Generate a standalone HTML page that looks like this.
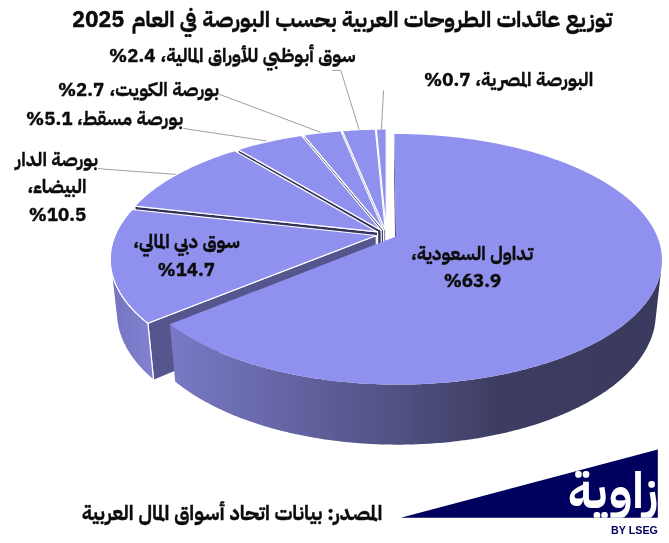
<!DOCTYPE html>
<html lang="ar"><head><meta charset="utf-8"><title>توزيع عائدات الطروحات العربية</title>
<style>html,body{margin:0;padding:0;background:#fff;overflow:hidden}svg{display:block}</style></head>
<body><svg width="669" height="543" viewBox="0 0 669 543">
<rect width="669" height="543" fill="#fff"/>
<defs><linearGradient id="gs" gradientUnits="userSpaceOnUse" x1="170" y1="0" x2="662" y2="0"><stop offset="0" stop-color="#7979c6"/><stop offset="0.264" stop-color="#6262a0"/><stop offset="0.467" stop-color="#505082"/><stop offset="0.67" stop-color="#3d3d62"/><stop offset="1" stop-color="#3a3a5e"/></linearGradient><linearGradient id="gd" gradientUnits="userSpaceOnUse" x1="111" y1="0" x2="155" y2="0"><stop offset="0" stop-color="#7474be"/><stop offset="1" stop-color="#8383d6"/></linearGradient></defs>
<path d="M386.2,229.7 376.3,129.1 376.5,175.3 386.2,281.8Z" fill="#32325c" stroke="#fff" stroke-width="1.2" stroke-linejoin="round"/>
<path d="M386.2,229.7 386.2,129.0 386.2,175.2 386.2,281.8Z" fill="#32325c" stroke="#fff" stroke-width="1.2" stroke-linejoin="round"/>
<path d="M385.2,229.7 342.3,130.7 343.1,177.0 385.2,281.9Z" fill="#32325c" stroke="#fff" stroke-width="1.2" stroke-linejoin="round"/>
<path d="M383.5,229.8 303.4,135.0 304.9,181.6 383.6,282.0Z" fill="#32325c" stroke="#fff" stroke-width="1.2" stroke-linejoin="round"/>
<path d="M381.2,230.3 238.0,149.4 240.8,196.9 381.3,282.5Z" fill="#32325c" stroke="#fff" stroke-width="1.2" stroke-linejoin="round"/>
<path d="M377.6,231.9 134.7,206.1 139.9,257.0 377.8,284.2Z" fill="#32325c" stroke="#fff" stroke-width="1.2" stroke-linejoin="round"/>
<path d="M376.3,235.5 147.9,323.2 153.6,380.4 376.5,288.1Z" fill="#56568f" stroke="#fff" stroke-width="1.2" stroke-linejoin="round"/>
<path d="M147.9,323.2 146.5,322.2 145.2,321.1 144.0,320.1 142.7,319.0 141.5,317.9 140.3,316.9 139.1,315.8 138.0,314.7 136.8,313.6 135.7,312.6 134.7,311.5 133.6,310.4 132.6,309.3 131.6,308.2 130.6,307.1 129.6,306.0 128.7,304.9 127.8,303.8 126.9,302.7 126.0,301.6 125.2,300.4 124.3,299.3 123.6,298.2 122.8,297.1 122.0,296.0 121.3,294.8 120.6,293.7 119.9,292.6 119.3,291.5 118.7,290.3 118.0,289.2 117.5,288.1 116.9,286.9 116.4,285.8 115.9,284.7 115.4,283.5 114.9,282.4 114.5,281.3 114.0,280.1 113.6,279.0 113.3,277.9 112.9,276.7 112.6,275.6 112.3,274.5 112.0,273.3 111.7,272.2 111.5,271.1 111.3,269.9 111.1,268.8 110.9,267.7 110.7,266.6 110.6,265.4 116.8,319.6 116.9,320.8 117.1,322.0 117.3,323.1 117.5,324.3 117.7,325.5 118.0,326.7 118.2,327.9 118.5,329.1 118.8,330.3 119.1,331.5 119.5,332.7 119.9,333.9 120.3,335.1 120.7,336.3 121.1,337.5 121.6,338.7 122.1,339.8 122.6,341.0 123.1,342.2 123.7,343.4 124.3,344.6 124.9,345.8 125.5,347.0 126.1,348.2 126.8,349.4 127.5,350.5 128.2,351.7 129.0,352.9 129.7,354.1 130.5,355.3 131.3,356.4 132.2,357.6 133.0,358.8 133.9,359.9 134.8,361.1 135.7,362.3 136.7,363.4 137.6,364.6 138.6,365.7 139.6,366.9 140.7,368.0 141.7,369.2 142.8,370.3 143.9,371.4 145.1,372.6 146.2,373.7 147.4,374.8 148.6,375.9 149.8,377.0 151.1,378.1 152.4,379.3 153.6,380.4Z" fill="url(#gd)" stroke="#fff" stroke-width="1.2" stroke-linejoin="round"/>
<path d="M395.9,236.5 394.4,134.0 394.3,180.5 395.7,289.0Z" fill="#32325c"/>
<path d="M661.5,267.3 661.4,268.4 661.2,269.6 661.0,270.7 660.8,271.8 660.6,272.9 660.3,274.1 660.0,275.2 659.7,276.3 659.4,277.5 659.1,278.6 658.7,279.7 658.3,280.9 657.9,282.0 657.5,283.1 657.0,284.2 656.5,285.4 656.0,286.5 655.5,287.6 654.9,288.8 654.4,289.9 653.8,291.0 653.1,292.1 652.5,293.3 651.8,294.4 651.1,295.5 650.4,296.6 649.7,297.8 648.9,298.9 648.1,300.0 647.3,301.1 646.5,302.2 645.6,303.3 644.8,304.4 643.9,305.5 642.9,306.6 642.0,307.7 641.0,308.8 640.0,309.9 639.0,311.0 637.9,312.1 636.9,313.2 635.8,314.3 634.7,315.4 633.5,316.4 632.4,317.5 631.2,318.6 630.0,319.6 628.7,320.7 627.5,321.7 626.2,322.8 624.9,323.8 623.6,324.9 622.2,325.9 620.9,327.0 619.5,328.0 618.0,329.0 616.6,330.0 615.1,331.0 613.6,332.0 612.1,333.0 610.6,334.0 609.0,335.0 607.4,336.0 605.8,337.0 604.2,337.9 602.6,338.9 600.9,339.9 599.2,340.8 597.5,341.7 595.8,342.7 594.0,343.6 592.2,344.5 590.4,345.4 588.6,346.3 586.7,347.2 584.9,348.1 583.0,349.0 581.1,349.9 579.2,350.8 577.2,351.6 575.2,352.5 573.2,353.3 571.2,354.1 569.2,355.0 567.1,355.8 565.1,356.6 563.0,357.4 560.9,358.2 558.7,358.9 556.6,359.7 554.4,360.5 552.2,361.2 550.0,362.0 547.8,362.7 545.6,363.4 543.3,364.1 541.1,364.8 538.8,365.5 536.5,366.2 534.1,366.8 531.8,367.5 529.4,368.1 527.1,368.8 524.7,369.4 522.3,370.0 519.8,370.6 517.4,371.2 515.0,371.8 512.5,372.3 510.0,372.9 507.5,373.4 505.0,374.0 502.5,374.5 500.0,375.0 497.4,375.5 494.9,376.0 492.3,376.4 489.7,376.9 487.1,377.3 484.5,377.8 481.9,378.2 479.3,378.6 476.6,379.0 474.0,379.4 471.3,379.7 468.7,380.1 466.0,380.4 463.3,380.7 460.6,381.1 457.9,381.4 455.2,381.7 452.5,381.9 449.8,382.2 447.1,382.4 444.3,382.7 441.6,382.9 438.8,383.1 436.1,383.3 433.3,383.5 430.6,383.7 427.8,383.8 425.0,383.9 422.3,384.1 419.5,384.2 416.7,384.3 413.9,384.4 411.1,384.4 408.3,384.5 405.6,384.6 402.8,384.6 400.0,384.6 397.2,384.6 394.4,384.6 391.6,384.6 388.8,384.5 386.0,384.5 383.2,384.4 380.5,384.3 377.7,384.2 374.9,384.1 372.1,384.0 369.3,383.9 366.6,383.7 363.8,383.6 361.0,383.4 358.3,383.2 355.5,383.0 352.8,382.8 350.0,382.5 347.3,382.3 344.6,382.0 341.8,381.8 339.1,381.5 336.4,381.2 333.7,380.9 331.0,380.6 328.3,380.2 325.6,379.9 323.0,379.5 320.3,379.1 317.6,378.8 315.0,378.4 312.4,377.9 309.8,377.5 307.1,377.1 304.5,376.6 302.0,376.2 299.4,375.7 296.8,375.2 294.3,374.7 291.7,374.2 289.2,373.7 286.7,373.1 284.2,372.6 281.7,372.0 279.2,371.4 276.8,370.9 274.3,370.3 271.9,369.7 269.5,369.0 267.1,368.4 264.7,367.8 262.3,367.1 260.0,366.5 257.6,365.8 255.3,365.1 253.0,364.4 250.7,363.7 248.5,363.0 246.2,362.3 244.0,361.5 241.8,360.8 239.6,360.0 237.4,359.3 235.2,358.5 233.1,357.7 231.0,356.9 228.9,356.1 226.8,355.3 224.7,354.5 222.7,353.7 220.7,352.8 218.7,352.0 216.7,351.1 214.7,350.3 212.8,349.4 210.9,348.5 209.0,347.6 207.1,346.7 205.2,345.8 203.4,344.9 201.6,344.0 199.8,343.1 198.0,342.2 196.2,341.2 194.5,340.3 192.8,339.3 191.1,338.4 189.5,337.4 187.8,336.4 186.2,335.4 184.6,334.5 183.0,333.5 181.5,332.5 180.0,331.5 178.4,330.5 177.0,329.4 175.5,328.4 174.1,327.4 172.7,326.4 171.3,325.3 169.9,324.3 175.2,381.5 176.5,382.6 177.9,383.7 179.3,384.7 180.7,385.8 182.1,386.9 183.5,388.0 185.0,389.0 186.5,390.1 188.0,391.1 189.6,392.2 191.1,393.2 192.7,394.2 194.3,395.2 196.0,396.2 197.6,397.3 199.3,398.2 201.0,399.2 202.7,400.2 204.4,401.2 206.2,402.2 208.0,403.1 209.7,404.1 211.6,405.0 213.4,406.0 215.3,406.9 217.1,407.8 219.0,408.7 221.0,409.6 222.9,410.5 224.9,411.4 226.8,412.3 228.8,413.2 230.8,414.0 232.9,414.9 234.9,415.7 237.0,416.5 239.1,417.4 241.2,418.2 243.3,419.0 245.5,419.8 247.6,420.5 249.8,421.3 252.0,422.1 254.2,422.8 256.4,423.5 258.7,424.3 260.9,425.0 263.2,425.7 265.5,426.4 267.8,427.1 270.1,427.7 272.5,428.4 274.8,429.0 277.2,429.7 279.6,430.3 282.0,430.9 284.4,431.5 286.8,432.1 289.3,432.7 291.7,433.2 294.2,433.8 296.6,434.3 299.1,434.8 301.6,435.3 304.1,435.8 306.7,436.3 309.2,436.8 311.7,437.3 314.3,437.7 316.9,438.1 319.4,438.6 322.0,439.0 324.6,439.4 327.2,439.7 329.8,440.1 332.4,440.5 335.1,440.8 337.7,441.1 340.3,441.4 343.0,441.7 345.6,442.0 348.3,442.3 351.0,442.5 353.6,442.8 356.3,443.0 359.0,443.2 361.7,443.4 364.4,443.6 367.1,443.8 369.8,443.9 372.5,444.1 375.2,444.2 377.9,444.3 380.6,444.4 383.3,444.5 386.0,444.5 388.8,444.6 391.5,444.6 394.2,444.7 396.9,444.7 399.6,444.7 402.3,444.7 405.1,444.6 407.8,444.6 410.5,444.5 413.2,444.4 415.9,444.3 418.6,444.2 421.3,444.1 424.0,444.0 426.7,443.8 429.4,443.7 432.1,443.5 434.8,443.3 437.5,443.1 440.1,442.9 442.8,442.7 445.5,442.4 448.1,442.2 450.8,441.9 453.4,441.6 456.1,441.3 458.7,441.0 461.3,440.6 463.9,440.3 466.5,439.9 469.1,439.6 471.7,439.2 474.3,438.8 476.9,438.4 479.4,438.0 482.0,437.5 484.5,437.1 487.0,436.6 489.5,436.1 492.1,435.6 494.5,435.1 497.0,434.6 499.5,434.1 502.0,433.5 504.4,433.0 506.8,432.4 509.2,431.8 511.6,431.2 514.0,430.6 516.4,430.0 518.8,429.4 521.1,428.8 523.4,428.1 525.8,427.4 528.1,426.8 530.3,426.1 532.6,425.4 534.9,424.7 537.1,424.0 539.3,423.2 541.5,422.5 543.7,421.7 545.9,421.0 548.0,420.2 550.2,419.4 552.3,418.6 554.4,417.8 556.4,417.0 558.5,416.2 560.6,415.3 562.6,414.5 564.6,413.6 566.6,412.8 568.5,411.9 570.5,411.0 572.4,410.1 574.3,409.2 576.2,408.3 578.1,407.4 579.9,406.5 581.7,405.6 583.5,404.6 585.3,403.7 587.1,402.7 588.8,401.8 590.5,400.8 592.2,399.8 593.9,398.8 595.6,397.8 597.2,396.8 598.8,395.8 600.4,394.8 602.0,393.8 603.5,392.7 605.1,391.7 606.6,390.7 608.1,389.6 609.5,388.6 611.0,387.5 612.4,386.4 613.8,385.4 615.1,384.3 616.5,383.2 617.8,382.1 619.1,381.0 620.4,379.9 621.6,378.8 622.9,377.7 624.1,376.6 625.3,375.5 626.4,374.4 627.6,373.2 628.7,372.1 629.8,371.0 630.9,369.8 631.9,368.7 633.0,367.6 634.0,366.4 634.9,365.3 635.9,364.1 636.8,362.9 637.8,361.8 638.6,360.6 639.5,359.5 640.4,358.3 641.2,357.1 642.0,356.0 642.7,354.8 643.5,353.6 644.2,352.4 644.9,351.2 645.6,350.1 646.3,348.9 646.9,347.7 647.5,346.5 648.1,345.3 648.7,344.1 649.2,343.0 649.8,341.8 650.3,340.6 650.8,339.4 651.2,338.2 651.7,337.0 652.1,335.8 652.5,334.6 652.8,333.4 653.2,332.3 653.5,331.1 653.8,329.9 654.1,328.7 654.4,327.5 654.6,326.3 654.8,325.1 655.0,323.9 655.2,322.7 655.3,321.6Z" fill="url(#gs)"/>
<path d="M386.2,229.7 L376.3,129.1 378.3,129.1 380.3,129.0 382.2,129.0 384.2,129.0 386.2,129.0Z" fill="#9091ee" stroke="#fff" stroke-width="1.2" stroke-linejoin="round"/>
<path d="M385.2,229.7 L342.3,130.7 344.2,130.5 346.1,130.4 348.1,130.3 350.0,130.1 352.0,130.0 353.9,129.9 355.9,129.8 357.8,129.7 359.8,129.6 361.7,129.5 363.7,129.5 365.6,129.4 367.6,129.3 369.5,129.3 371.5,129.2 373.5,129.2 375.4,129.1Z" fill="#9091ee" stroke="#fff" stroke-width="1.2" stroke-linejoin="round"/>
<path d="M383.5,229.8 L303.4,135.0 305.3,134.8 307.1,134.5 309.0,134.2 310.8,134.0 312.7,133.7 314.5,133.5 316.4,133.3 318.3,133.0 320.1,132.8 322.0,132.6 323.9,132.4 325.8,132.2 327.6,132.0 329.5,131.8 331.4,131.6 333.3,131.4 335.2,131.3 337.1,131.1 339.0,131.0 340.8,130.8Z" fill="#9091ee" stroke="#fff" stroke-width="1.2" stroke-linejoin="round"/>
<path d="M381.2,230.3 L238.0,149.4 239.7,148.9 241.5,148.4 243.2,147.9 244.9,147.4 246.7,146.9 248.4,146.4 250.2,146.0 251.9,145.5 253.7,145.0 255.5,144.6 257.2,144.1 259.0,143.7 260.8,143.2 262.6,142.8 264.4,142.4 266.2,142.0 268.0,141.6 269.8,141.2 271.6,140.8 273.5,140.4 275.3,140.0 277.1,139.6 279.0,139.3 280.8,138.9 282.7,138.5 284.5,138.2 286.4,137.9 288.2,137.5 290.1,137.2 292.0,136.9 293.8,136.6 295.7,136.3 297.6,136.0 299.5,135.7 301.4,135.4Z" fill="#9091ee" stroke="#fff" stroke-width="1.2" stroke-linejoin="round"/>
<path d="M377.6,231.9 L134.7,206.1 135.6,205.2 136.4,204.2 137.4,203.3 138.3,202.4 139.2,201.4 140.2,200.5 141.1,199.6 142.1,198.7 143.1,197.8 144.1,196.9 145.1,196.0 146.2,195.1 147.2,194.2 148.3,193.3 149.4,192.5 150.5,191.6 151.6,190.7 152.7,189.9 153.8,189.0 155.0,188.2 156.1,187.3 157.3,186.5 158.5,185.7 159.7,184.9 160.9,184.0 162.1,183.2 163.3,182.4 164.6,181.6 165.8,180.8 167.1,180.0 168.4,179.2 169.7,178.5 171.0,177.7 172.3,176.9 173.6,176.1 175.0,175.4 176.3,174.6 177.7,173.9 179.0,173.2 180.4,172.4 181.8,171.7 183.2,171.0 184.6,170.3 186.1,169.6 187.5,168.9 188.9,168.2 190.4,167.5 191.8,166.8 193.3,166.1 194.8,165.4 196.3,164.8 197.8,164.1 199.3,163.5 200.8,162.8 202.3,162.2 203.9,161.5 205.4,160.9 207.0,160.3 208.5,159.7 210.1,159.0 211.7,158.4 213.3,157.8 214.9,157.3 216.5,156.7 218.1,156.1 219.7,155.5 221.3,155.0 222.9,154.4 224.6,153.8 226.2,153.3 227.9,152.7 229.6,152.2 231.2,151.7 232.9,151.2 234.6,150.7Z" fill="#9091ee" stroke="#fff" stroke-width="1.2" stroke-linejoin="round"/>
<path d="M376.3,235.5 L147.9,323.2 146.5,322.2 145.2,321.1 144.0,320.1 142.7,319.0 141.5,317.9 140.3,316.9 139.1,315.8 138.0,314.7 136.8,313.6 135.7,312.6 134.7,311.5 133.6,310.4 132.6,309.3 131.6,308.2 130.6,307.1 129.6,306.0 128.7,304.9 127.8,303.8 126.9,302.7 126.0,301.6 125.2,300.4 124.3,299.3 123.6,298.2 122.8,297.1 122.0,296.0 121.3,294.8 120.6,293.7 119.9,292.6 119.3,291.5 118.7,290.3 118.0,289.2 117.5,288.1 116.9,286.9 116.4,285.8 115.9,284.7 115.4,283.5 114.9,282.4 114.5,281.3 114.0,280.1 113.6,279.0 113.3,277.9 112.9,276.7 112.6,275.6 112.3,274.5 112.0,273.3 111.7,272.2 111.5,271.1 111.3,269.9 111.1,268.8 110.9,267.7 110.7,266.6 110.6,265.4 110.5,264.3 110.4,263.2 110.4,262.1 110.3,260.9 110.3,259.8 110.3,258.7 110.3,257.6 110.3,256.5 110.4,255.4 110.5,254.3 110.6,253.1 110.7,252.0 110.9,250.9 111.0,249.8 111.2,248.7 111.4,247.6 111.6,246.6 111.9,245.5 112.2,244.4 112.4,243.3 112.7,242.2 113.1,241.1 113.4,240.0 113.8,239.0 114.2,237.9 114.6,236.8 115.0,235.8 115.4,234.7 115.9,233.7 116.4,232.6 116.8,231.6 117.4,230.5 117.9,229.5 118.4,228.4 119.0,227.4 119.6,226.4 120.2,225.3 120.8,224.3 121.4,223.3 122.1,222.3 122.8,221.3 123.5,220.3 124.2,219.3 124.9,218.3 125.6,217.3 126.4,216.3 127.1,215.3 127.9,214.3 128.7,213.3 129.6,212.4 130.4,211.4 131.2,210.4 132.1,209.5Z" fill="#9091ee" stroke="#fff" stroke-width="1.2" stroke-linejoin="round"/>
<path d="M395.9,236.5 L394.4,134.0 396.3,134.0 398.3,134.0 400.2,134.0 402.1,134.0 404.1,134.1 406.0,134.1 407.9,134.1 409.9,134.2 411.8,134.2 413.7,134.3 415.6,134.4 417.6,134.5 419.5,134.5 421.4,134.6 423.3,134.7 425.3,134.8 427.2,134.9 429.1,135.0 431.0,135.2 432.9,135.3 434.9,135.4 436.8,135.6 438.7,135.7 440.6,135.9 442.5,136.0 444.4,136.2 446.3,136.4 448.2,136.6 450.1,136.8 452.0,137.0 453.9,137.2 455.8,137.4 457.7,137.6 459.6,137.8 461.5,138.0 463.4,138.3 465.2,138.5 467.1,138.7 469.0,139.0 470.9,139.3 472.7,139.5 474.6,139.8 476.5,140.1 478.3,140.4 480.2,140.7 482.0,141.0 483.9,141.3 485.7,141.6 487.6,141.9 489.4,142.2 491.2,142.6 493.1,142.9 494.9,143.3 496.7,143.6 498.5,144.0 500.3,144.3 502.1,144.7 503.9,145.1 505.7,145.5 507.5,145.9 509.3,146.3 511.1,146.7 512.9,147.1 514.7,147.5 516.4,147.9 518.2,148.3 519.9,148.8 521.7,149.2 523.4,149.7 525.2,150.1 526.9,150.6 528.6,151.1 530.4,151.5 532.1,152.0 533.8,152.5 535.5,153.0 537.2,153.5 538.9,154.0 540.6,154.5 542.2,155.1 543.9,155.6 545.6,156.1 547.2,156.7 548.9,157.2 550.5,157.8 552.1,158.3 553.8,158.9 555.4,159.5 557.0,160.0 558.6,160.6 560.2,161.2 561.8,161.8 563.4,162.4 565.0,163.0 566.5,163.6 568.1,164.3 569.6,164.9 571.2,165.5 572.7,166.2 574.2,166.8 575.7,167.5 577.2,168.1 578.7,168.8 580.2,169.5 581.7,170.1 583.2,170.8 584.6,171.5 586.1,172.2 587.5,172.9 588.9,173.6 590.3,174.3 591.7,175.0 593.1,175.8 594.5,176.5 595.9,177.2 597.3,178.0 598.6,178.7 600.0,179.5 601.3,180.3 602.6,181.0 603.9,181.8 605.2,182.6 606.5,183.4 607.8,184.1 609.1,184.9 610.3,185.7 611.6,186.6 612.8,187.4 614.0,188.2 615.2,189.0 616.4,189.8 617.6,190.7 618.8,191.5 619.9,192.4 621.1,193.2 622.2,194.1 623.3,194.9 624.4,195.8 625.5,196.7 626.6,197.6 627.7,198.4 628.7,199.3 629.8,200.2 630.8,201.1 631.8,202.0 632.8,202.9 633.8,203.9 634.7,204.8 635.7,205.7 636.6,206.6 637.5,207.6 638.4,208.5 639.3,209.5 640.2,210.4 641.1,211.4 641.9,212.3 642.8,213.3 643.6,214.2 644.4,215.2 645.1,216.2 645.9,217.2 646.7,218.2 647.4,219.2 648.1,220.2 648.8,221.2 649.5,222.2 650.2,223.2 650.8,224.2 651.5,225.2 652.1,226.2 652.7,227.2 653.3,228.3 653.8,229.3 654.4,230.3 654.9,231.4 655.4,232.4 655.9,233.5 656.4,234.5 656.8,235.6 657.3,236.6 657.7,237.7 658.1,238.7 658.5,239.8 658.8,240.9 659.2,242.0 659.5,243.0 659.8,244.1 660.1,245.2 660.3,246.3 660.6,247.4 660.8,248.5 661.0,249.5 661.2,250.6 661.4,251.7 661.5,252.8 661.6,253.9 661.8,255.0 661.8,256.2 661.9,257.3 661.9,258.4 662.0,259.5 662.0,260.6 661.9,261.7 661.9,262.8 661.8,263.9 661.8,265.1 661.7,266.2 661.5,267.3 661.4,268.4 661.2,269.6 661.0,270.7 660.8,271.8 660.6,272.9 660.3,274.1 660.0,275.2 659.7,276.3 659.4,277.5 659.1,278.6 658.7,279.7 658.3,280.9 657.9,282.0 657.5,283.1 657.0,284.2 656.5,285.4 656.0,286.5 655.5,287.6 654.9,288.8 654.4,289.9 653.8,291.0 653.1,292.1 652.5,293.3 651.8,294.4 651.1,295.5 650.4,296.6 649.7,297.8 648.9,298.9 648.1,300.0 647.3,301.1 646.5,302.2 645.6,303.3 644.8,304.4 643.9,305.5 642.9,306.6 642.0,307.7 641.0,308.8 640.0,309.9 639.0,311.0 637.9,312.1 636.9,313.2 635.8,314.3 634.7,315.4 633.5,316.4 632.4,317.5 631.2,318.6 630.0,319.6 628.7,320.7 627.5,321.7 626.2,322.8 624.9,323.8 623.6,324.9 622.2,325.9 620.9,327.0 619.5,328.0 618.0,329.0 616.6,330.0 615.1,331.0 613.6,332.0 612.1,333.0 610.6,334.0 609.0,335.0 607.4,336.0 605.8,337.0 604.2,337.9 602.6,338.9 600.9,339.9 599.2,340.8 597.5,341.7 595.8,342.7 594.0,343.6 592.2,344.5 590.4,345.4 588.6,346.3 586.7,347.2 584.9,348.1 583.0,349.0 581.1,349.9 579.2,350.8 577.2,351.6 575.2,352.5 573.2,353.3 571.2,354.1 569.2,355.0 567.1,355.8 565.1,356.6 563.0,357.4 560.9,358.2 558.7,358.9 556.6,359.7 554.4,360.5 552.2,361.2 550.0,362.0 547.8,362.7 545.6,363.4 543.3,364.1 541.1,364.8 538.8,365.5 536.5,366.2 534.1,366.8 531.8,367.5 529.4,368.1 527.1,368.8 524.7,369.4 522.3,370.0 519.8,370.6 517.4,371.2 515.0,371.8 512.5,372.3 510.0,372.9 507.5,373.4 505.0,374.0 502.5,374.5 500.0,375.0 497.4,375.5 494.9,376.0 492.3,376.4 489.7,376.9 487.1,377.3 484.5,377.8 481.9,378.2 479.3,378.6 476.6,379.0 474.0,379.4 471.3,379.7 468.7,380.1 466.0,380.4 463.3,380.7 460.6,381.1 457.9,381.4 455.2,381.7 452.5,381.9 449.8,382.2 447.1,382.4 444.3,382.7 441.6,382.9 438.8,383.1 436.1,383.3 433.3,383.5 430.6,383.7 427.8,383.8 425.0,383.9 422.3,384.1 419.5,384.2 416.7,384.3 413.9,384.4 411.1,384.4 408.3,384.5 405.6,384.6 402.8,384.6 400.0,384.6 397.2,384.6 394.4,384.6 391.6,384.6 388.8,384.5 386.0,384.5 383.2,384.4 380.5,384.3 377.7,384.2 374.9,384.1 372.1,384.0 369.3,383.9 366.6,383.7 363.8,383.6 361.0,383.4 358.3,383.2 355.5,383.0 352.8,382.8 350.0,382.5 347.3,382.3 344.6,382.0 341.8,381.8 339.1,381.5 336.4,381.2 333.7,380.9 331.0,380.6 328.3,380.2 325.6,379.9 323.0,379.5 320.3,379.1 317.6,378.8 315.0,378.4 312.4,377.9 309.8,377.5 307.1,377.1 304.5,376.6 302.0,376.2 299.4,375.7 296.8,375.2 294.3,374.7 291.7,374.2 289.2,373.7 286.7,373.1 284.2,372.6 281.7,372.0 279.2,371.4 276.8,370.9 274.3,370.3 271.9,369.7 269.5,369.0 267.1,368.4 264.7,367.8 262.3,367.1 260.0,366.5 257.6,365.8 255.3,365.1 253.0,364.4 250.7,363.7 248.5,363.0 246.2,362.3 244.0,361.5 241.8,360.8 239.6,360.0 237.4,359.3 235.2,358.5 233.1,357.7 231.0,356.9 228.9,356.1 226.8,355.3 224.7,354.5 222.7,353.7 220.7,352.8 218.7,352.0 216.7,351.1 214.7,350.3 212.8,349.4 210.9,348.5 209.0,347.6 207.1,346.7 205.2,345.8 203.4,344.9 201.6,344.0 199.8,343.1 198.0,342.2 196.2,341.2 194.5,340.3 192.8,339.3 191.1,338.4 189.5,337.4 187.8,336.4 186.2,335.4 184.6,334.5 183.0,333.5 181.5,332.5 180.0,331.5 178.4,330.5 177.0,329.4 175.5,328.4 174.1,327.4 172.7,326.4 171.3,325.3 169.9,324.3Z" fill="#9091ee"/>
<polyline points="383.6,90.3 381.4,129.3" fill="none" stroke="#a0a0a0" stroke-width="1"/>
<polyline points="332.2,70.4 340.8,70.4 359.1,129.5" fill="none" stroke="#a0a0a0" stroke-width="1"/>
<polyline points="218.4,93.9 320.7,132.4" fill="none" stroke="#a0a0a0" stroke-width="1"/>
<polyline points="183.2,128.4 266.4,140.9" fill="none" stroke="#a0a0a0" stroke-width="1"/>
<polyline points="98,168.5 105,169.2 175.7,174.4" fill="none" stroke="#a0a0a0" stroke-width="1"/>
<g font-family="'IBM Plex Sans Arabic','DejaVu Sans',sans-serif" font-weight="bold" fill="#0c0c0c" text-anchor="start" style="font-feature-settings:'dlig' 1,'locl' 0" stroke="#0c0c0c" stroke-width="0.3"><text x="612.3" y="27.3" direction="rtl" textLength="480.6" lengthAdjust="spacingAndGlyphs" font-size="22.1">توزيع عائدات الطروحات العربية بحسب البورصة في العام</text><text x="72.1" y="27.3" direction="ltr" textLength="52.3" lengthAdjust="spacingAndGlyphs" font-size="21.8">2025</text><text x="355.6" y="62.0" direction="rtl" textLength="195.2" lengthAdjust="spacingAndGlyphs" font-size="18.67">سوق أبوظبي للأوراق المالية،</text><text x="109.1" y="62.0" direction="ltr" textLength="46.3" lengthAdjust="spacingAndGlyphs" font-size="18.67">%2.4</text><text x="218.9" y="96.0" direction="rtl" textLength="109.5" lengthAdjust="spacingAndGlyphs" font-size="18.67">بورصة الكويت،</text><text x="57.9" y="96.0" direction="ltr" textLength="46.3" lengthAdjust="spacingAndGlyphs" font-size="18.67">%2.7</text><text x="183.1" y="124.7" direction="rtl" textLength="106.2" lengthAdjust="spacingAndGlyphs" font-size="18.67">بورصة مسقط،</text><text x="26.1" y="124.7" direction="ltr" textLength="46.3" lengthAdjust="spacingAndGlyphs" font-size="18.67">%5.1</text><text x="593.2" y="85.8" direction="rtl" textLength="118.0" lengthAdjust="spacingAndGlyphs" font-size="18.67">البورصة المصرية،</text><text x="424.1" y="85.8" direction="ltr" textLength="46.3" lengthAdjust="spacingAndGlyphs" font-size="18.67">%0.7</text><text x="98.0" y="166" direction="rtl" textLength="82.4" lengthAdjust="spacingAndGlyphs" font-size="18.67">بورصة الدار</text><text x="86.6" y="193" direction="rtl" textLength="59.1" lengthAdjust="spacingAndGlyphs" font-size="18.67">البيضاء،</text><text x="28.7" y="221" direction="ltr" textLength="57.5" lengthAdjust="spacingAndGlyphs" font-size="18.67">%10.5</text><text x="239.8" y="248.0" direction="rtl" textLength="106.5" lengthAdjust="spacingAndGlyphs" font-size="18.67">سوق دبي المالي،</text><text x="157.4" y="275.6" direction="ltr" textLength="57.5" lengthAdjust="spacingAndGlyphs" font-size="18.67">%14.7</text><text x="533.1" y="260" direction="rtl" textLength="122.2" lengthAdjust="spacingAndGlyphs" font-size="18.67">تداول السعودية،</text><text x="443.7" y="287" direction="ltr" textLength="57.5" lengthAdjust="spacingAndGlyphs" font-size="18.67">%63.9</text><text x="382.3" y="519.6" direction="rtl" textLength="300.6" lengthAdjust="spacingAndGlyphs" font-size="20.2">المصدر: بيانات اتحاد أسواق المال العربية</text></g>
<path d="M400.6,517.8 L657.8,449.4 L657.8,517.8Z" fill="#00005e"/>
<clipPath id="lc"><rect x="560" y="440" width="97.8" height="77.8"/></clipPath>
<g clip-path="url(#lc)"><text x="658.0" y="507.7" direction="rtl" text-anchor="start" font-family="'IBM Plex Sans Arabic','DejaVu Sans',sans-serif" font-weight="bold" font-size="50" textLength="90.2" lengthAdjust="spacingAndGlyphs" fill="#fff">زاوية</text></g>
<text x="611.1" y="534.2" textLength="46.8" lengthAdjust="spacingAndGlyphs" font-family="'Liberation Sans',sans-serif" font-weight="bold" font-size="11.4" fill="#00005e">BY LSEG</text>
</svg></body></html>
